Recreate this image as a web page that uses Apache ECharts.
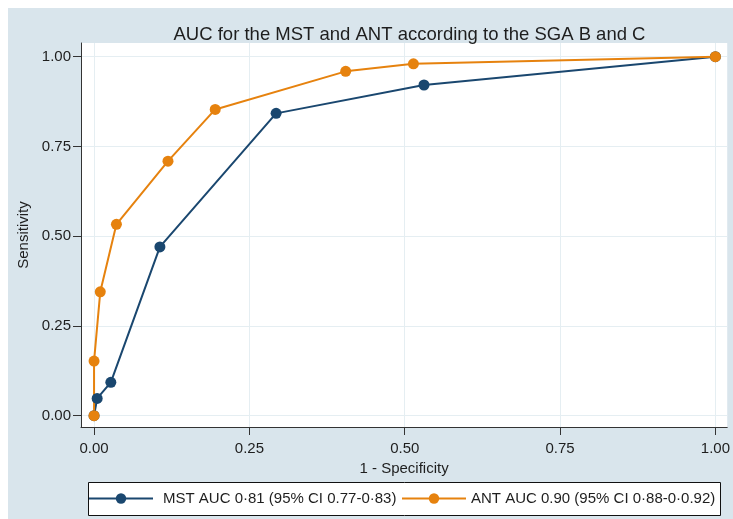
<!DOCTYPE html>
<html>
<head>
<meta charset="utf-8">
<script src="https://cdn.jsdelivr.net/npm/echarts@6/dist/echarts.min.js"></script>
<style>
html,body{margin:0;padding:0;background:#fff;}
#chart{width:733px;height:519px;}
</style>
</head>
<body>
<div id="chart"></div>
<script>
// ---- data ----
const chartTitle = 'AUC for the MST and ANT according to the SGA B and C';
const xAxisTitle = '1 - Specificity';
const yAxisTitle = 'Sensitivity';
const xTicks = [0, 0.25, 0.5, 0.75, 1];
const yTicks = [0, 0.25, 0.5, 0.75, 1];
const mstName = 'MST AUC 0·81 (95% CI 0.77-0·83)';
const mstX = [0, 0.005, 0.027, 0.106, 0.293, 0.531, 1];
const mstY = [0, 0.048, 0.093, 0.470, 0.842, 0.921, 1];
const antName = 'ANT AUC 0.90 (95% CI 0·88-0·0.92)';
const antX = [0, 0, 0.010, 0.036, 0.119, 0.195, 0.405, 0.514, 1];
const antY = [0, 0.152, 0.345, 0.533, 0.709, 0.853, 0.959, 0.980, 1];

const navy = '#1a476f';
const orange = '#e6820e';
const font = 'Liberation Sans, Arial, sans-serif';
const txt = '#1e1e1e';

const pairs = (xs, ys) => xs.map((x, i) => [x, ys[i]]);

const chart = echarts.init(document.getElementById('chart'), null, {renderer: 'canvas'});
chart.setOption({
  animation: false,
  backgroundColor: '#d9e5ec',
  textStyle: {fontFamily: font},
  graphic: [
    {type: 'rect', shape: {x: 0, y: 0, width: 733, height: 8}, style: {fill: '#fff'}, silent: true},
    {type: 'rect', shape: {x: 0, y: 0, width: 8, height: 519}, style: {fill: '#fff'}, silent: true},
    {type: 'rect', shape: {x: 88.5, y: 482.5, width: 632, height: 33}, style: {fill: '#fff', stroke: '#111', lineWidth: 1}, silent: true, z: -1}
  ],
  title: {
    text: chartTitle,
    left: 404.5, textAlign: 'center', top: 20,
    textStyle: {fontFamily: font, fontSize: 18.5, fontWeight: 'normal', color: txt}
  },
  legend: [
    {
      data: [mstName], left: 88, top: 491, padding: 0,
      itemWidth: 64, itemHeight: 13,
      textStyle: {fontFamily: font, fontSize: 15, color: txt, padding: [0, 0, 0, 5]}
    },
    {
      data: [antName], left: 401, top: 491, padding: 0,
      itemWidth: 64, itemHeight: 13,
      textStyle: {fontFamily: font, fontSize: 15, color: txt, padding: [0, 0, 0, 0]}
    }
  ],
  grid: {
    left: 81, top: 43, right: 5, bottom: 92,
    show: true, backgroundColor: '#fff', borderWidth: 0
  },
  xAxis: {
    type: 'value', min: -0.021, max: 1.019,
    name: xAxisTitle, nameLocation: 'middle', nameGap: 32,
    nameTextStyle: {fontFamily: font, fontSize: 15, color: txt},
    axisLine: {onZero: false, lineStyle: {color: '#333', width: 1}},
    axisTick: {show: true, length: 8, customValues: xTicks, lineStyle: {color: '#333'}},
    axisLabel: {customValues: xTicks, margin: 14, fontFamily: font, fontSize: 15, color: txt,
      formatter: v => v.toFixed(2)},
    splitLine: {show: true, lineStyle: {color: '#e5eef2', width: 1}}
  },
  yAxis: {
    type: 'value', min: -0.0315, max: 1.038,
    name: yAxisTitle, nameLocation: 'middle', nameGap: 47,
    nameTextStyle: {fontFamily: font, fontSize: 15, color: txt},
    axisLine: {show: true, onZero: false, lineStyle: {color: '#333', width: 1}},
    axisTick: {show: true, length: 8, customValues: yTicks, lineStyle: {color: '#333'}},
    axisLabel: {customValues: yTicks, margin: 10, fontFamily: font, fontSize: 15, color: txt,
      formatter: v => v.toFixed(2)},
    splitLine: {show: true, lineStyle: {color: '#e5eef2', width: 1}}
  },
  series: [
    {
      name: mstName, type: 'line', data: pairs(mstX, mstY),
      symbol: 'circle', symbolSize: 11, showAllSymbol: true,
      lineStyle: {color: navy, width: 2}, itemStyle: {color: navy}
    },
    {
      name: antName, type: 'line', data: pairs(antX, antY),
      symbol: 'circle', symbolSize: 11, showAllSymbol: true,
      lineStyle: {color: orange, width: 2}, itemStyle: {color: orange}
    }
  ]
});
</script>
</body>
</html>
